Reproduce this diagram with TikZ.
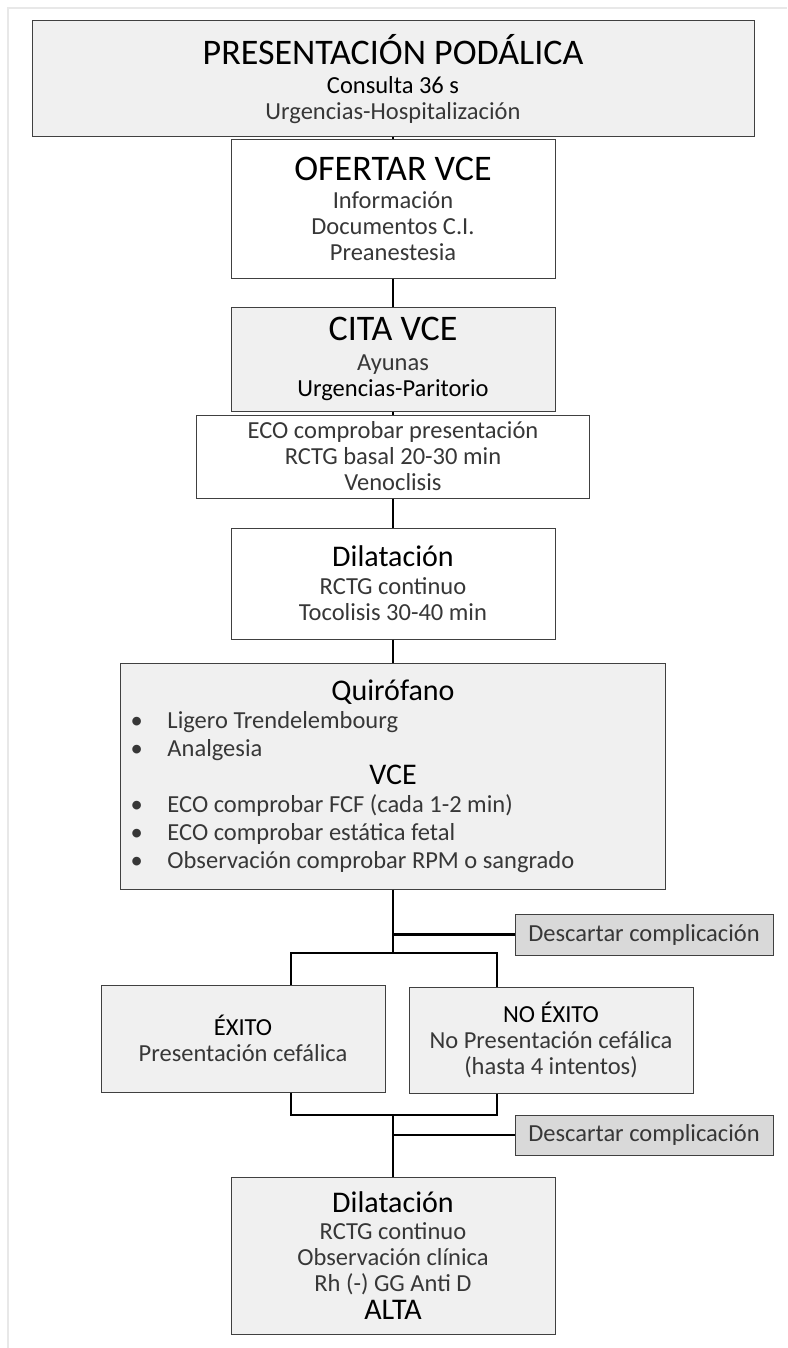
\documentclass[tikz,border=0pt]{standalone}
\usepackage{fontspec}
\setmainfont{Carlito}
\usepackage{xcolor}
\usetikzlibrary{calc}
\definecolor{boxgray}{RGB}{240,240,240}
\definecolor{descgray}{RGB}{217,217,217}
\definecolor{framegray}{RGB}{232,232,232}
\definecolor{bodytext}{RGB}{55,55,55}
\newcommand{\hdbig}{\fontsize{36}{36}\selectfont\color{black}}
\newcommand{\hdmid}{\fontsize{30}{30}\selectfont\color{black}}
\newcommand{\bul}{\makebox[37pt][l]{\textbullet}}
\tikzset{plain box/.style={draw=black!75,line width=1pt,fill=white,inner sep=0pt,align=center,font=\fontsize{24.5}{26}\selectfont,text=bodytext},
  gray box/.style={plain box,fill=boxgray},side box/.style={plain box,fill=descgray},
  link/.style={line width=2.6pt,black}}

\begin{document}
\begin{tikzpicture}[x=1pt,y=-1pt]
  \useasboundingbox (0,0) rectangle (787,1348);
  \draw[framegray,line width=2pt] (787,8) -- (8,8) -- (8,1348);

  \node[gray box,minimum width=722,minimum height=116] (pres) at (393,79)
    {{\hdbig PRESENTACIÓN PODÁLICA}\\[3pt] {\color{black}Consulta 36 s}\\ Urgencias-Hospitalización};
  \node[plain box,minimum width=324,minimum height=138] (ofertar) at (393,209)
    {{\hdbig OFERTAR VCE}\\[2pt] Información\\ Documentos C.I.\\ Preanestesia};
  \node[gray box,minimum width=324,minimum height=104] (cita) at (393,359)
    {{\hdbig CITA VCE}\\[4pt] Ayunas\\ {\color{black}Urgencias-Paritorio}};
  \node[plain box,minimum width=393,minimum height=83] (eco) at (393,456.5)
    {ECO comprobar presentación\\ RCTG basal 20-30 min\\ Venoclisis};
  \node[plain box,minimum width=324,minimum height=111] (dil) at (393,583.5)
    {{\hdmid Dilatación}\\[2pt] RCTG continuo\\ Tocolisis 30-40 min};
  \node[gray box,minimum width=545,minimum height=226,text width=525,align=flush left,
    font=\fontsize{24.5}{28}\selectfont] (quir) at (393,776)
    {\makebox[525pt]{\hdmid Quirófano}\\ \bul Ligero Trendelembourg\\ \bul Analgesia\\
     \makebox[525pt]{\hdmid VCE}\\ \bul ECO comprobar FCF (cada 1-2 min)\\
     \bul ECO comprobar estática fetal\\ \bul Observación comprobar RPM o sangrado};
  \node[side box,minimum width=258,minimum height=41] (desc1) at (644,934.5) {Descartar complicación};
  \node[gray box,minimum width=284,minimum height=107] (exito) at (243,1038.5)
    {{\color{black}ÉXITO}\\ Presentación cefálica};
  \node[gray box,minimum width=284,minimum height=106] (noexito) at (551,1040)
    {{\color{black}NO ÉXITO}\\ No Presentación cefálica\\ (hasta 4 intentos)};
  \node[side box,minimum width=258,minimum height=40] (desc2) at (644,1135) {Descartar complicación};
  \node[gray box,minimum width=324,minimum height=157] (alta) at (393,1255.5)
    {{\hdmid Dilatación}\\[1pt] RCTG continuo\\ Observación clínica\\ Rh (-) GG Anti D\\[2pt] {\hdmid ALTA}};

  \coordinate (split) at (393,953);
  \coordinate (merge) at (393,1115);
  \coordinate (sl) at (291,953);
  \coordinate (sr) at (497,953);
  \coordinate (ml) at (291,1115);
  \coordinate (mr) at (497,1115);

  \draw[link] (pres) -- (ofertar);
  \draw[link] (ofertar) -- (cita);
  \draw[link] (cita) -- (eco);
  \draw[link] (eco) -- (dil);
  \draw[link] (dil) -- (quir);
  \draw[link] (quir.south) -- (split);
  \draw[link] (quir.south |- desc1) -- (desc1.west);
  \draw[link] (exito.north -| sl) -- (sl) -- (sr) -- (noexito.north -| sr);
  \draw[link] (exito.south -| ml) -- (ml) -- (mr) -- (noexito.south -| mr);
  \draw[link] (merge) -- (alta.north);
  \draw[link] (merge |- desc2) -- (desc2.west);
\end{tikzpicture}
\end{document}
